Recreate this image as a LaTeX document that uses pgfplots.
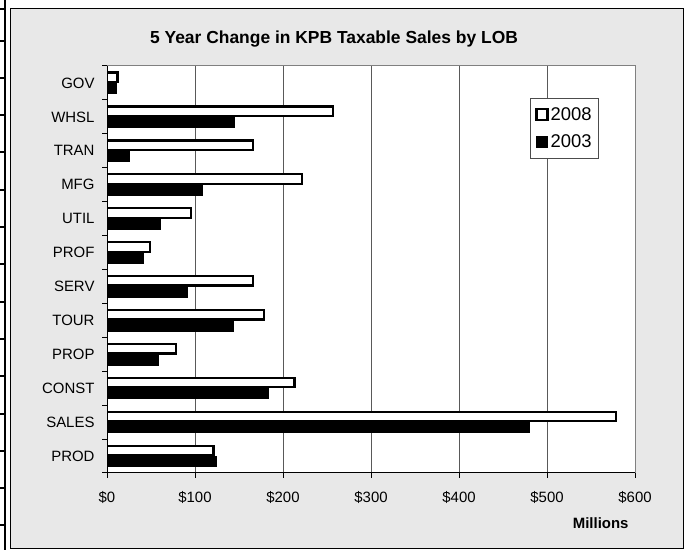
\documentclass[border=0pt]{standalone}
\usepackage{pgfplots}
\pgfplotsset{compat=1.18}
\usepackage{fontspec}
\setmainfont{Liberation Sans}
\definecolor{chartbg}{RGB}{232,232,232}
\begin{document}
\begin{tikzpicture}[x=1bp,y=1bp]
\useasboundingbox (0,0) rectangle (684,550);
\fill[white] (0,0) rectangle (684,550);
\filldraw[draw=black, line width=1bp, fill=chartbg] (10.5,1) rectangle (683.5,541);
% spreadsheet strip at left
\draw[line width=2bp] (5,0) -- (5,550);
\foreach \yy in {9,41,78,115,152,190,227,264,302,339,376,414,451,488,525}
  \draw[line width=1.5bp] (0,{550-\yy}) -- (5,{550-\yy});
\node[font=\bfseries\fontsize{17.5}{20}\selectfont] at (334,511) {5 Year Change in KPB Taxable Sales by LOB};
\node[font=\bfseries\fontsize{15}{18}\selectfont, anchor=east] at (632,27) {Millions};
\begin{axis}[
  at={(107bp,77bp)}, anchor=south west,
  scale only axis, width=528bp, height=407bp,
  xbar,
  xmin=0, xmax=600, ymin=-0.5, ymax=11.5,
  axis background/.style={fill=white},
  axis line style={black!50, line width=1bp},
  xtick={0,100,...,600},
  xticklabels={\$0,\$100,\$200,\$300,\$400,\$500,\$600},
  ytick={0,...,11},
  yticklabels={PROD,SALES,CONST,PROP,TOUR,SERV,PROF,UTIL,MFG,TRAN,WHSL,GOV},
  minor ytick={-0.5,0.5,...,11.5},
  tick align=outside,
  major tick length=5bp, minor tick length=5bp,
  major y tick style={draw=none},
  minor y tick style={black, line width=1bp},
  major x tick style={black, line width=1bp},
  xtick pos=bottom, ytick pos=left,
  xmajorgrids, grid style={black!65, line width=0.8bp},
  tick label style={font=\fontsize{15}{18}\selectfont},
  xticklabel style={yshift=-10bp},
  yticklabel style={xshift=-4bp},
  legend style={at={(0.801,0.921)}, anchor=north west, draw=black!70, fill=white,
    line width=0.8bp, font=\fontsize{18.5}{22}\selectfont,
    inner xsep=5bp, inner ysep=7bp, row sep=9bp},
  legend cell align=left,
  legend image code/.code={\draw[#1] (0bp,-5.5bp) rectangle (11bp,5.5bp);},
]
\addplot[bar width=9.5bp, bar shift=5.6bp, draw=black, line width=2.2bp, fill=white]
  coordinates {(121,0) (578,1) (213,2) (78,3) (178,4) (166,5) (49,6) (95,7) (222,8) (166,9) (257,10) (12,11)};
\addlegendentry{2008}
\addplot[bar width=10.5bp, bar shift=-5.3bp, draw=black, line width=0.6bp, fill=black]
  coordinates {(124,0) (480,1) (183,2) (58,3) (144,4) (91,5) (41,6) (60,7) (108,8) (25,9) (145,10) (10,11)};
\addlegendentry{2003}
\draw[black, line width=1.2bp] (rel axis cs:0,0) -- (rel axis cs:0,1);
\draw[black, line width=1.2bp] (rel axis cs:0,0) -- (rel axis cs:1,0);
\end{axis}
\end{tikzpicture}
\end{document}
